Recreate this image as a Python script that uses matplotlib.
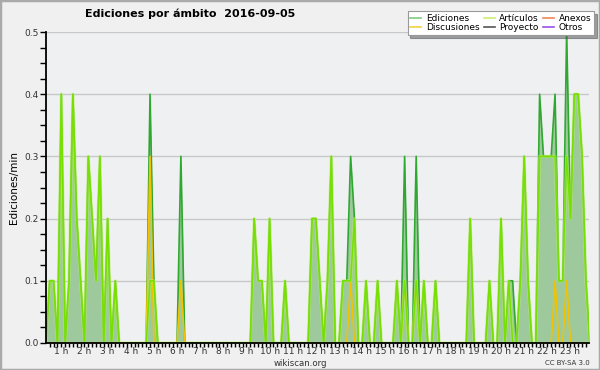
import numpy as np
import matplotlib.pyplot as plt
from matplotlib.lines import Line2D
from matplotlib.patches import Rectangle

# edits/min for each 10-minute slot of the day (144 slots)
ediciones = [
    0, 0, 0, 0.1, 0.1, 0, 0.4, 0, 0.1, 0.4, 0.2, 0.1, 0, 0.3, 0.2, 0.1, 0.3, 0, 0.2, 0, 0.1, 0, 0, 0,   # 0-4h
    0, 0, 0, 0, 0, 0.4, 0.1, 0, 0, 0, 0, 0, 0, 0.3, 0, 0, 0, 0, 0, 0, 0, 0, 0, 0,             # 4-8h
    0, 0, 0, 0, 0, 0, 0, 0, 0.2, 0.1, 0.1, 0, 0.2, 0, 0, 0, 0.1, 0, 0, 0, 0, 0, 0, 0.2,       # 8-12h
    0.2, 0.1, 0, 0.1, 0.3, 0, 0, 0.1, 0.1, 0.3, 0.2, 0, 0, 0.1, 0, 0, 0.1, 0, 0, 0, 0, 0.1, 0, 0.3,   # 12-16h
    0, 0, 0.3, 0, 0.1, 0, 0, 0.1, 0, 0, 0, 0, 0, 0, 0, 0, 0.2, 0, 0, 0, 0, 0.1, 0, 0,         # 16-20h
    0.2, 0, 0.1, 0.1, 0, 0.1, 0.3, 0.1, 0, 0, 0.4, 0.3, 0.3, 0.3, 0.4, 0.1, 0.1, 0.5, 0.2, 0.4, 0.4, 0.3, 0.1, 0,  # 20-24h
]
articulos = [
    0, 0, 0, 0.1, 0.1, 0, 0.4, 0, 0.1, 0.4, 0.2, 0.1, 0, 0.3, 0.2, 0.1, 0.3, 0, 0.2, 0, 0.1, 0, 0, 0,
    0, 0, 0, 0, 0, 0.1, 0.1, 0, 0, 0, 0, 0, 0, 0, 0, 0, 0, 0, 0, 0, 0, 0, 0, 0,
    0, 0, 0, 0, 0, 0, 0, 0, 0.2, 0.1, 0.1, 0, 0.2, 0, 0, 0, 0.1, 0, 0, 0, 0, 0, 0, 0.2,
    0.2, 0.1, 0, 0.1, 0.3, 0, 0, 0.1, 0.1, 0.1, 0.2, 0, 0, 0.1, 0, 0, 0.1, 0, 0, 0, 0, 0.1, 0, 0.1,
    0, 0, 0.1, 0, 0.1, 0, 0, 0.1, 0, 0, 0, 0, 0, 0, 0, 0, 0.2, 0, 0, 0, 0, 0.1, 0, 0,
    0.2, 0, 0.1, 0, 0, 0.1, 0.3, 0.1, 0, 0, 0.3, 0.3, 0.3, 0.3, 0.3, 0.1, 0.1, 0.3, 0.2, 0.4, 0.4, 0.3, 0.1, 0,
]
discusiones = [
    0, 0, 0, 0, 0, 0, 0, 0, 0, 0, 0, 0, 0, 0, 0, 0, 0, 0, 0, 0, 0, 0, 0, 0,
    0, 0, 0, 0, 0, 0.3, 0, 0, 0, 0, 0, 0, 0, 0.1, 0, 0, 0, 0, 0, 0, 0, 0, 0, 0,
    0, 0, 0, 0, 0, 0, 0, 0, 0, 0, 0, 0, 0, 0, 0, 0, 0, 0, 0, 0, 0, 0, 0, 0,
    0, 0, 0, 0, 0, 0, 0, 0, 0, 0.1, 0, 0, 0, 0, 0, 0, 0, 0, 0, 0, 0, 0, 0, 0.1,
    0, 0, 0.1, 0, 0, 0, 0, 0, 0, 0, 0, 0, 0, 0, 0, 0, 0, 0, 0, 0, 0, 0, 0, 0,
    0, 0, 0, 0, 0, 0, 0, 0, 0, 0, 0, 0, 0, 0, 0.1, 0, 0, 0.1, 0, 0, 0, 0, 0, 0,
]
hours = list(range(1, 24))
legend_names = ["Ediciones", "Discusiones", "Artículos", "Proyecto", "Anexos", "Otros"]
legend_colors = ["#80cc80", "#f5d040", "#ccee70", "#555555", "#f08858", "#9a50e8"]

x = np.arange(len(ediciones)) / 6.0

plt.rcParams['font.family'] = 'DejaVu Sans'
fig = plt.figure(figsize=(6, 3.7), dpi=100, facecolor="#f0f0f0")
ax = fig.add_axes([46 / 600, 27 / 370, 543 / 600, 311 / 370])
ax.set_facecolor("#eef0f2")

ax.fill_between(x, ediciones, color="#9dc99d", lw=0, zorder=2)
ax.plot(x, ediciones, color="#2fa82f", lw=1.2, zorder=3)
ax.plot(x, discusiones, color="#f2c200", lw=1.2, zorder=4)
ax.plot(x, articulos, color="#b8f060", lw=2.2, alpha=0.6, zorder=4)
ax.plot(x, articulos, color="#78e000", lw=1.1, zorder=5)

ax.set_xlim(2.03 / 6, 142.8 / 6)
ax.set_ylim(0, 0.5)
for s in ["top", "right"]:
    ax.spines[s].set_visible(False)
for s in ["left", "bottom"]:
    ax.spines[s].set_linewidth(1.3)
    ax.spines[s].set_zorder(6)

ax.set_yticks(np.arange(0, 0.51, 0.1))
ax.set_yticklabels(["0.0", "0.1", "0.2", "0.3", "0.4", "0.5"])
ax.set_yticks(np.arange(0, 0.51, 0.025), minor=True)
ax.yaxis.grid(True, color="#c8c8c8", lw=1)
ax.set_axisbelow(True)
ax.tick_params(axis="y", which="both", length=4, width=1, labelsize=6.5, labelcolor="#333333", pad=1)

ax.set_xticks(hours)
ax.set_xticklabels([f"{h} h" for h in hours])
ax.set_xticks(np.arange(3, 143) / 6.0, minor=True)
ax.tick_params(axis="x", which="both", length=3, width=1, labelsize=6.5, labelcolor="#333333", pad=0)

ax.set_ylabel("Ediciones/min", fontsize=7.5, labelpad=4)

fig.text(85 / 600, 1 - 14 / 370, "Ediciones por ámbito  2016-09-05", fontsize=8.0,
         fontweight="bold", ha="left", va="center")
fig.text(300 / 600, 1 - 363 / 370, "wikiscan.org", fontsize=6.2, color="#333333",
         ha="center", va="center")
fig.text(590 / 600, 1 - 363 / 370, "CC BY-SA 3.0", fontsize=5, color="#333333",
         ha="right", va="center")

handles = [Line2D([], [], color=c, lw=1.2) for c in legend_colors]
leg = fig.legend(handles, legend_names, ncol=3, loc="upper right",
                 bbox_to_anchor=(594 / 600, 1 - 11 / 370), fontsize=6.5,
                 frameon=True, fancybox=False, shadow=True, handlelength=1.2,
                 handletextpad=0.5, columnspacing=0.5, labelspacing=0.05,
                 borderpad=0.3, borderaxespad=0)
leg.get_frame().set_edgecolor("#999999")
leg.get_frame().set_linewidth(0.8)

fig.patches.append(Rectangle((0, 0), 1, 1, transform=fig.transFigure, fill=False,
                             edgecolor="#aaaaaa", lw=2.5))

plt.savefig("out.png", dpi=100, facecolor=fig.get_facecolor())
